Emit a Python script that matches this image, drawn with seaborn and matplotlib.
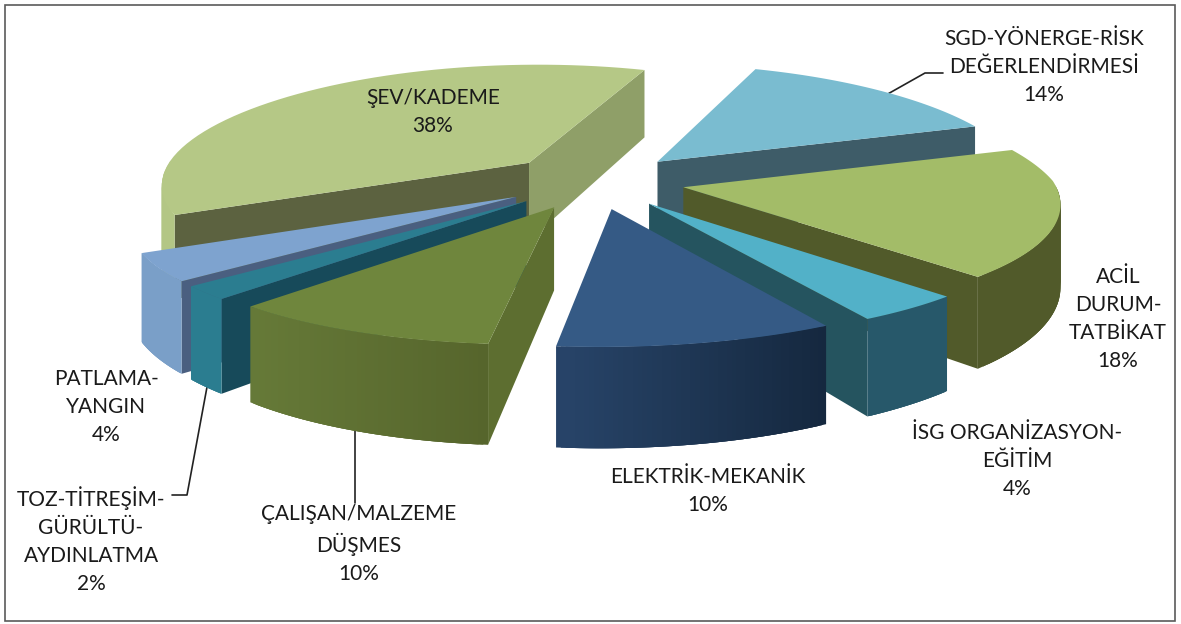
"""Exploded 3D pie: accident cause shares, drawn as projected polygons."""

import matplotlib.pyplot as plt
import numpy as np
import seaborn as sns
from matplotlib.colors import to_rgb

# Data (clockwise, starting from the SGD slice)
LABELS = [
    "SGD-YÖNERGE-RİSK\nDEĞERLENDİRMESİ",
    "ACİL\nDURUM-\nTATBİKAT",
    "İSG ORGANİZASYON-\nEĞİTİM",
    "ELEKTRİK-MEKANİK",
    "ÇALIŞAN/MALZEME\nDÜŞMES",
    "TOZ-TİTREŞİM-\nGÜRÜLTÜ-\nAYDINLATMA",
    "PATLAMA-\nYANGIN",
    "ŞEV/KADEME",
]
VALUES = [14, 18, 4, 10, 10, 2, 4, 38]
TOP_COLORS = ["#7ABCD0", "#A3BC68", "#52B1C8", "#355A85", "#6F863D", "#2B7D90", "#7EA3CF", "#B5C886"]
CUT_START = ["#3E5C68", "#515A2A", "#25545F", "#223E60", "#5D6E30", "#174A5A", "#4A5F80", "#5C6240"]
CUT_END = ["#3E5C68", "#515A2A", "#25545F", "#223E60", "#5D6E30", "#174A5A", "#4A5F80", "#8F9F68"]
RIM_LEFT = ["#3E5C68", "#515A2A", "#27586A", "#28456A", "#667A38", "#2B7D90", "#7A9FC8", "#B3C685"]
RIM_RIGHT = ["#3E5C68", "#515A2A", "#27586A", "#15283F", "#56652C", "#2B7D90", "#7A9FC8", "#B3C685"]

# Screen layout of the pie, in pixels
CX, CY = 595, 181
RX, RY = 370, 114
X_PERSP_BACK = 0.17
X_PERSP_FRONT = 0.15
PERSP = 0.12
SHEAR = 15
DEPTH = 80
DEPTH_PERSP = 0.17
EXPLODE = 0.245
START = 20.0


def project(x, y, z=0.0):
    """World point on the unit disc to screen pixels."""
    xp = X_PERSP_BACK if y > 0 else X_PERSP_FRONT
    return (CX + RX * x / (1 + xp * y) + SHEAR * min(y, 0),
            CY - RY * y / (1 + PERSP * y) + DEPTH * z / (1 + DEPTH_PERSP * y))


def blend(c0, c1, t):
    return tuple((1 - t) * a + t * b for a, b in zip(to_rgb(c0), to_rgb(c1)))


def cut_visible(tip, rim, inner):
    """A cut face shows when the slice top lies above its edge on screen."""
    ex, ey = rim[0] - tip[0], rim[1] - tip[1]
    vx, vy = inner[0] - tip[0], inner[1] - tip[1]
    return (ex * vy - ey * vx) * ex < 0


def draw_slice(ax, a0, a1, i, zorder):
    mid = np.radians((a0 + a1) / 2)
    ox, oy = EXPLODE * np.sin(mid), EXPLODE * np.cos(mid)
    th = np.radians(np.linspace(a0, a1, 60))
    rim_x, rim_y = ox + np.sin(th), oy + np.cos(th)
    tip = project(ox, oy)
    inner = project(ox + 0.5 * np.sin(mid), oy + 0.5 * np.cos(mid))

    # radial cut faces
    for k, col in [(0, CUT_START[i]), (-1, CUT_END[i])]:
        rim = project(rim_x[k], rim_y[k])
        if cut_visible(tip, rim, inner):
            face = [tip, rim, project(rim_x[k], rim_y[k], 1), project(ox, oy, 1)]
            ax.fill(*zip(*face), color=col, lw=0, zorder=zorder)

    # rim wall as overlapping strips, shaded left to right on screen
    pts = [project(x, y) for x, y in zip(rim_x, rim_y)]
    low = [project(x, y, 1) for x, y in zip(rim_x, rim_y)]
    xmin, xmax = min(p[0] for p in pts), max(p[0] for p in pts)
    front = [j for j in range(len(th)) if np.cos(th[j]) < 0.03]
    # walk from the right end so each strip overlaps the seam of the last
    for a, b in zip(front[:-3], front[3:]):
        col = blend(RIM_LEFT[i], RIM_RIGHT[i], (pts[a][0] - xmin) / max(xmax - xmin, 1))
        strip = [pts[a], pts[b], low[b], low[a]]
        ax.fill(*zip(*strip), color=col, lw=0, zorder=zorder + 0.1)

    # top surface
    ax.fill(*zip(*([tip] + pts)), color=TOP_COLORS[i], lw=0, zorder=zorder + 0.2)


def main():
    sns.set_theme(style="white")
    plt.rcParams["font.family"] = ["Lato", "DejaVu Sans"]
    fig = plt.figure(figsize=(11.81, 6.24), dpi=100)
    ax = fig.add_axes([0, 0, 1, 1])
    ax.set_xlim(0, 1181)
    ax.set_ylim(624, 0)
    ax.axis("off")

    ax.add_patch(plt.Rectangle((5, 5), 1170, 616, fc="white", ec="#5A5A5A", lw=1.2, zorder=0))

    # leader lines, tucked under the slices
    ax.plot([870, 925, 943], [104, 73, 73], color="#222222", lw=1.2, zorder=0.5)
    ax.plot([212, 187, 172], [360, 495, 495], color="#222222", lw=1.2, zorder=0.5)
    ax.plot([355, 355], [410, 503], color="#222222", lw=1.2, zorder=0.5)

    # slice angles clockwise from the top, from the values
    edges = START + np.concatenate([[0], np.cumsum(VALUES)]) * 3.6
    order = [7, 0, 1, 6, 5, 4, 2, 3]  # back to front
    for z, i in enumerate(order):
        draw_slice(ax, edges[i], edges[i + 1], i, z + 1)

    # labels, centred on their block
    label_pos = [(1044, 67), (1118, 319), (1017, 461), (708, 491), (359, 544), (91, 540), (106, 407), (433, 112)]
    for lab, val, (x, y) in zip(LABELS, VALUES, label_pos):
        ax.text(x, y, f"{lab}\n{val}%", ha="center", va="center", fontsize=15,
                color="#1A1A1A", linespacing=1.5, zorder=30)

    plt.savefig("out.png", dpi=100)
    plt.close()


if __name__ == "__main__":
    main()
